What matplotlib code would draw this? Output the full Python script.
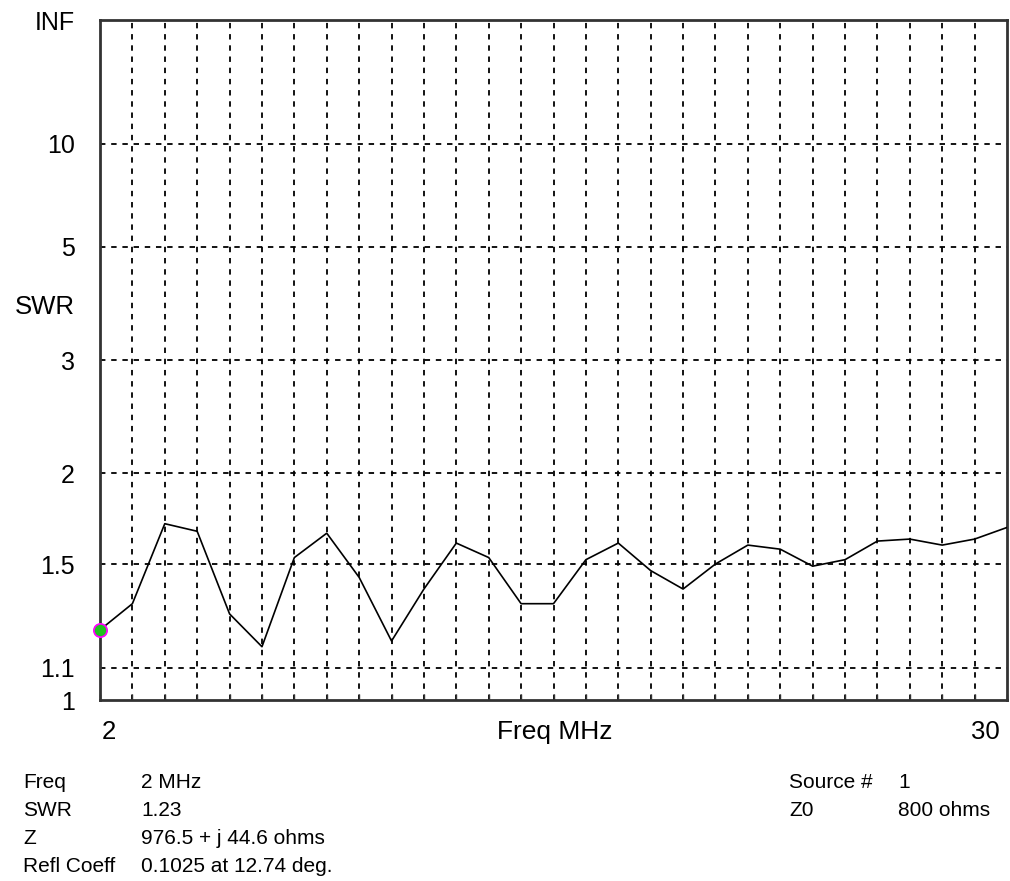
"""
SWR sweep 2-30 MHz, EZNEC-style plot.
Vertical axis is linear in reflection coefficient, labelled in SWR.
"""
import numpy as np
import matplotlib
matplotlib.use("Agg")
import matplotlib.pyplot as plt
from matplotlib.transforms import blended_transform_factory

plt.rcParams["font.family"] = ["Liberation Sans", "DejaVu Sans"]

# --- data ----------------------------------------------------------------
freq_mhz = [2, 3, 4, 5, 6, 7, 8, 9, 10, 11, 12, 13, 14, 15, 16,
            17, 18, 19, 20, 21, 22, 23, 24, 25, 26, 27, 28, 29, 30]
swr = [1.23, 1.33, 1.70, 1.66, 1.29, 1.17, 1.53, 1.65, 1.44, 1.19,
       1.39, 1.60, 1.53, 1.33, 1.33, 1.52, 1.60, 1.47, 1.39, 1.50,
       1.59, 1.57, 1.49, 1.52, 1.61, 1.62, 1.59, 1.62, 1.68]

swr_ticks = [1, 1.1, 1.5, 2, 3, 5, 10]
swr_tick_labels = ["1", "1.1", "1.5", "2", "3", "5", "10"]

info_left = [("Freq", "2 MHz"), ("SWR", "1.23"),
             ("Z", "976.5 + j 44.6 ohms"), ("Refl Coeff", "0.1025 at 12.74 deg.")]
info_right = [("Source #", "1"), ("Z0", "800 ohms")]


def rho(s):
    s = np.asarray(s, dtype=float)
    return (s - 1.0) / (s + 1.0)


fig = plt.figure(figsize=(10.10, 8.81), dpi=100)
ax = fig.add_axes([100 / 1010, 181 / 881, 907 / 1010, 680 / 881])

ax.set_xlim(2, 30)
ax.set_ylim(0, 1)

# grid
grid_kw = dict(color="black", lw=1.3, dashes=(3, 3.2), zorder=1)
for s in swr_ticks[1:]:
    ax.axhline(rho(s), **grid_kw)
for f in range(3, 30):
    ax.axvline(f, **grid_kw)

# trace + marker at first point
ax.plot(freq_mhz, rho(swr), color="black", lw=1.2, zorder=3)
ax.plot(freq_mhz[0], rho(swr[0]), "o", ms=9.5, mfc="#1fc21f", mec="#ff00ff",
        mew=1.3, zorder=4, clip_on=False)

# y ticks (SWR labels at reflection-coefficient positions)
ax.set_yticks(list(rho(swr_ticks)) + [1.0])
ax.set_yticklabels(swr_tick_labels + ["INF"], fontsize=18)
ax.tick_params(axis="y", length=0, pad=18)

# x ticks: small inward marks at each MHz
ax.set_xticks(range(2, 31))
ax.set_xticklabels([])
ax.tick_params(axis="x", direction="in", length=4, width=1, color="#333333")

for sp in ax.spines.values():
    sp.set_color("#333333")
    sp.set_linewidth(2)

swr_lbl = ax.text(75 / 1010, 0.578, "SWR", fontsize=18.5, ha="right", va="center",
                  transform=blended_transform_factory(fig.transFigure, ax.transAxes))

# x labels
ty = 1 - 732 / 881
fig.text(102 / 1010, ty, "2", fontsize=18.5, ha="left", va="center")
fig.text(555 / 1010, ty, "Freq MHz", fontsize=19, ha="center", va="center")
fig.text(1000 / 1010, ty, "30", fontsize=18.5, ha="right", va="center")

# info block
row_y = [782, 810, 838, 866]
for (k, v), yy in zip(info_left, row_y):
    fig.text(23 / 1010, 1 - yy / 881, k, fontsize=15, va="center")
    fig.text(141 / 1010, 1 - yy / 881, v, fontsize=15, va="center")
for (k, v), yy in zip(info_right, row_y):
    fig.text(789 / 1010, 1 - yy / 881, k, fontsize=15, va="center")
    fig.text(898 / 1010, 1 - yy / 881, v, fontsize=15, va="center")

fig.savefig("out.png", dpi=100, facecolor="white")
